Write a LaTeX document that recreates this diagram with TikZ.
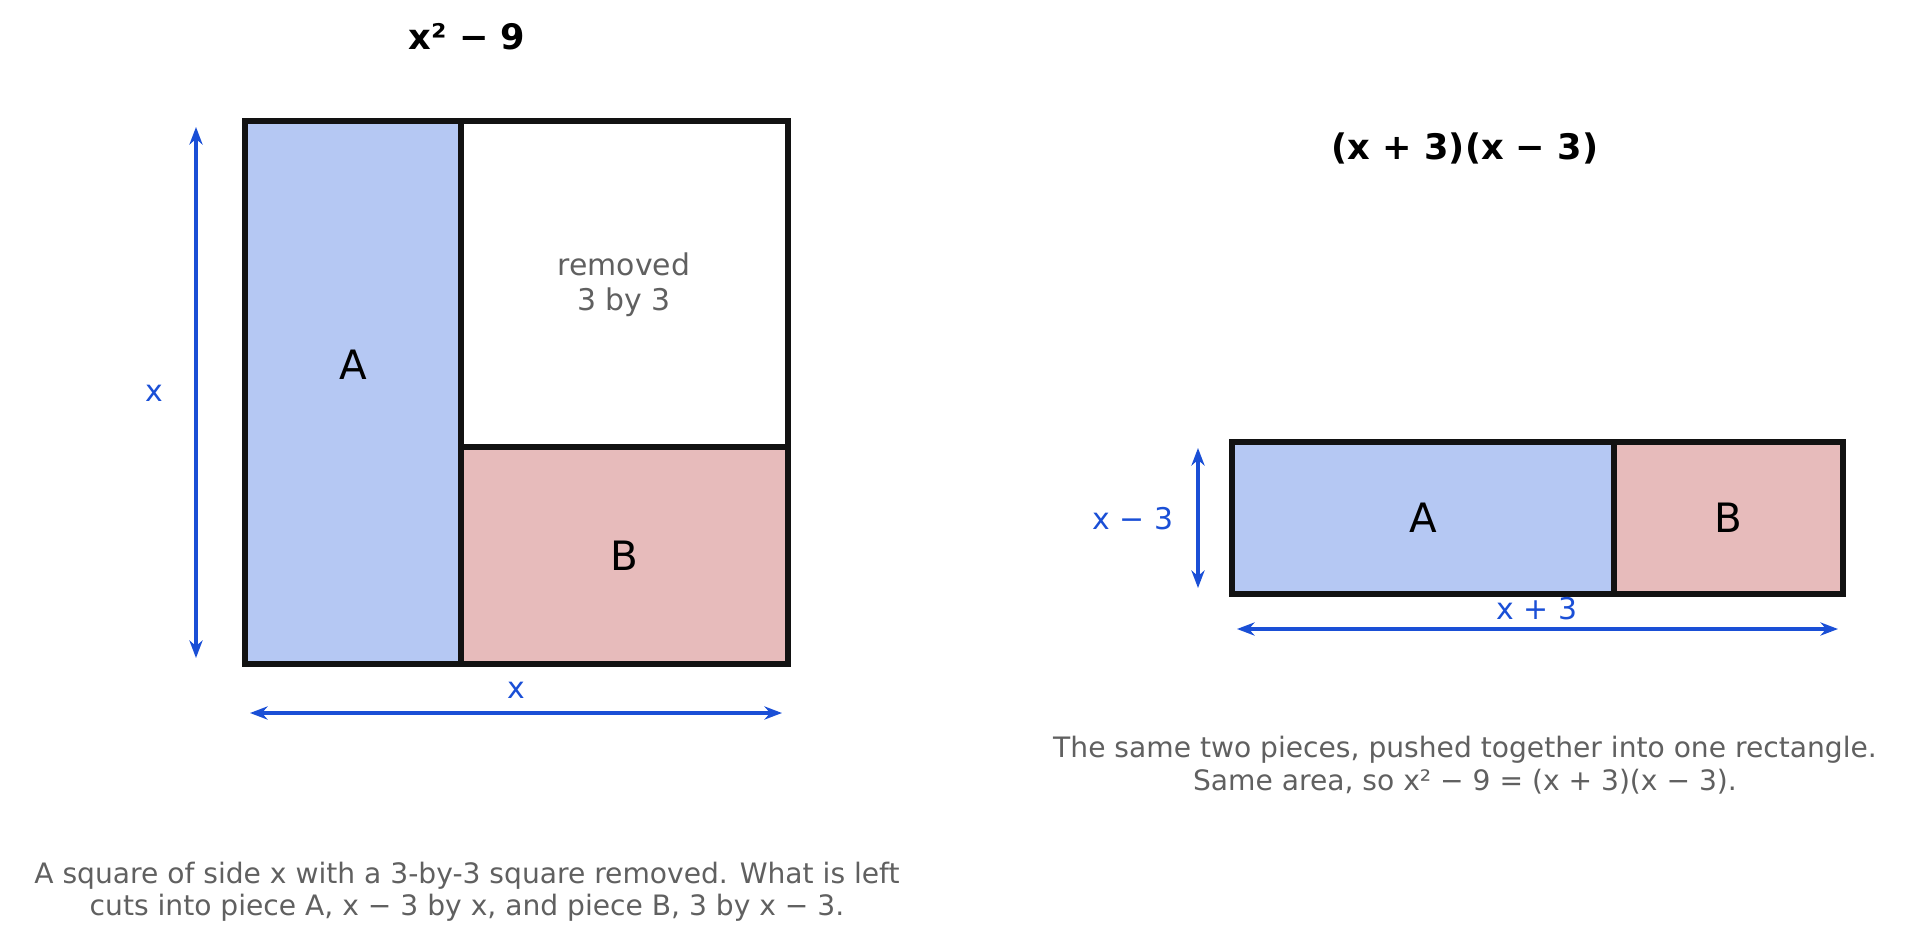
\documentclass[tikz,border=0pt]{standalone}
\usepackage{fontspec}
\setmainfont{DejaVu Sans}
\usetikzlibrary{arrows.meta}
\definecolor{pieceA}{HTML}{B5C8F3}
\definecolor{pieceB}{HTML}{E7BBBB}
\definecolor{dimblue}{HTML}{1A4FD6}
\definecolor{note}{HTML}{606060}
\tikzset{
  piece/.style={draw=black!93, line width=1.5pt},
  dim/.style={draw=dimblue, line width=1pt, {Stealth[length=5pt]}-{Stealth[length=5pt]}},
  dimlabel/.style={text=dimblue, font=\fontsize{8.5}{10}\selectfont},
  title/.style={font=\bfseries\fontsize{10}{12}\selectfont},
  caption/.style={text=note, align=center, font=\fontsize{8}{9.2}\selectfont},
  letter/.style={font=\fontsize{11.5}{13}\selectfont}
}
\begin{document}
\begin{tikzpicture}[x=0.01cm, y=-0.01cm]
    \useasboundingbox (0,0) rectangle (1911,942);
    % Left: square with corner removed
    \node[title] (ttl) at (467,37) {x² − 9};
    \draw[piece, fill=pieceA] (245,121) rectangle (461,664);
    \draw[piece, fill=pieceB] (461,447) rectangle (788,664);
    \draw[piece] (461,121) rectangle (788,447);
    \node[letter] (la) at (353,365) {A};
    \node[letter] (lb) at (624,556) {B};
    \node[caption, font=\fontsize{8.5}{10}\selectfont] (rm) at (624,285) {removed\\3 by 3};
    \coordinate (vt) at (196,127);
    \coordinate (vb) at (196,658);
    \draw[dim] (vt) -- (vb);
    \node[dimlabel] (vx) at (154,393) {x};
    \coordinate (hl) at (250,713);
    \coordinate (hr) at (782,713);
    \draw[dim] (hl) -- (hr);
    \node[dimlabel] (hx) at (516,690) {x};
    \node[caption] (capl) at (467,892) {A square of side x with a 3-by-3 square removed. What is left\\cuts into piece A, x − 3 by x, and piece B, 3 by x − 3.};
    % Right: pieces rearranged
    \node[title] (ttr) at (1465,148) {(x + 3)(x − 3)};
    \draw[piece, fill=pieceA] (1232,442) rectangle (1614,594);
    \draw[piece, fill=pieceB] (1614,442) rectangle (1843,594);
    \node[letter] (ra) at (1423,518) {A};
    \node[letter] (rb) at (1728,518) {B};
    \coordinate (rvt) at (1198,448);
    \coordinate (rvb) at (1198,588);
    \draw[dim] (rvt) -- (rvb);
    \node[dimlabel] (rvx) at (1133,519) {x − 3};
    \coordinate (rhl) at (1237,629);
    \coordinate (rhr) at (1838,629);
    \draw[dim] (rhl) -- (rhr);
    \node[dimlabel] (rhx) at (1537,609) {x + 3};
    \node[caption] (capr) at (1465,765) {The same two pieces, pushed together into one rectangle.\\Same area, so x² − 9 = (x + 3)(x − 3).};
\end{tikzpicture}
\end{document}
